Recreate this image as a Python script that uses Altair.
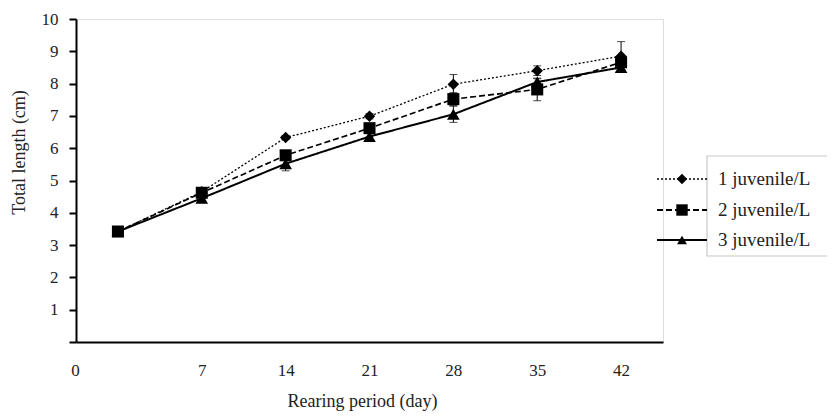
import altair as alt
import pandas as pd

days = [0, 7, 14, 21, 28, 35, 42]
series_names = ["1 juvenile/L", "2 juvenile/L", "3 juvenile/L"]
s1 = [3.42, 4.65, 6.33, 6.99, 7.98, 8.40, 8.85]
s1_err = [0.05, 0.06, 0.06, 0.08, 0.30, 0.15, 0.45]
s2 = [3.42, 4.62, 5.78, 6.62, 7.52, 7.82, 8.66]
s2_err = [0.05, 0.10, 0.10, 0.12, 0.20, 0.35, 0.15]
s3 = [3.42, 4.45, 5.52, 6.36, 7.05, 8.05, 8.50]
s3_err = [0.05, 0.08, 0.22, 0.10, 0.25, 0.10, 0.10]
y_ticks = [0, 1, 2, 3, 4, 5, 6, 7, 8, 9, 10]

rows = []
for name, vals, errs in zip(series_names, [s1, s2, s3], [s1_err, s2_err, s3_err]):
    for d, v, e in zip(days, vals, errs):
        rows.append({"day": d, "series": name, "value": v, "lo": v - e, "hi": v + e})
df = pd.DataFrame(rows)

FONT = "Liberation Serif"
shapes = ["diamond", "square", "triangle-up"]
dashes = [[2, 2], [6, 3], [1, 0]]
widths = [1.3, 2.0, 1.8]

x_scale = alt.Scale(domain=[-3.5, 45.5], nice=False, zero=False)
x_axis = alt.Axis(
    values=days, title="Rearing period (day)", ticks=False, tickSize=0,
    grid=False, domainColor="black", domainWidth=2,
    labelFont=FONT, labelFontSize=17, labelColor="#222",
    labelBaseline="middle", labelPadding=28,
    labelOffset={"condition": {"test": "datum.value == 0", "value": -43}, "value": 0},
    titleFont=FONT, titleFontSize=18, titleFontWeight="normal", titleColor="#222",
    titleX=286, titleY=59, titleBaseline="middle", titleAlign="center",
)
y_scale = alt.Scale(domain=[0, 10], nice=False)
y_axis = alt.Axis(
    values=y_ticks, title="Total length (cm)", grid=False,
    domainColor="black", domainWidth=2, tickColor="black", tickWidth=2, tickSize=7,
    labelFont=FONT, labelFontSize=17, labelColor="#222", labelPadding=11,
    labelExpr="datum.value == 0 ? '' : datum.label",
    titleFont=FONT, titleFontSize=18, titleFontWeight="normal", titleColor="#222",
    titleX=-57, titleY=133, titleAngle=-90, titleAlign="center", titleBaseline="middle",
)

X = alt.X("day:Q", scale=x_scale, axis=x_axis)

base = alt.Chart(df)
lines = base.mark_line(color="black", clip=False).encode(
    x=X, y=alt.Y("value:Q", scale=y_scale, axis=y_axis),
    strokeDash=alt.StrokeDash("series:N", scale=alt.Scale(domain=series_names, range=dashes), legend=None),
    strokeWidth=alt.StrokeWidth("series:N", scale=alt.Scale(domain=series_names, range=widths), legend=None),
    detail="series:N",
)
errs = base.mark_errorbar(ticks=True, size=8, thickness=1, color="black").encode(
    x=X, y=alt.Y("lo:Q", scale=y_scale, axis=y_axis), y2="hi:Q",
)
pts = base.mark_point(filled=True, color="black", opacity=1).encode(
    x=X, y=alt.Y("value:Q", scale=y_scale, axis=y_axis),
    shape=alt.Shape("series:N", scale=alt.Scale(domain=series_names, range=shapes), legend=None),
    size=alt.Size("series:N", scale=alt.Scale(domain=series_names, range=[130, 160, 120]), legend=None),
)

# manual legend (positions relative to plot area)
leg_box = alt.Chart(pd.DataFrame({"k": [0]})).mark_rect(
    fill="white", stroke="#c8c8c8", strokeWidth=1.2
).encode(x=alt.value(631), x2=alt.value(790), y=alt.value(137), y2=alt.value(237))

legend_layers = [leg_box]
row_y = [160, 191, 221]
for i, name in enumerate(series_names):
    ldf = pd.DataFrame({"series": [name]})
    legend_layers.append(
        alt.Chart(ldf).mark_rule(color="black", strokeDash=dashes[i], strokeWidth=widths[i]).encode(
            x=alt.value(581), x2=alt.value(631), y=alt.value(row_y[i])
        )
    )
    legend_layers.append(
        alt.Chart(ldf).mark_point(filled=True, color="black", opacity=1, shape=shapes[i],
                                  size=[110, 130, 100][i]).encode(
            x=alt.value(606), y=alt.value(row_y[i])
        )
    )
    legend_layers.append(
        alt.Chart(ldf).mark_text(font=FONT, fontSize=19, align="left", baseline="middle", color="#222").encode(
            x=alt.value(642), y=alt.value(row_y[i]), text="series:N"
        )
    )

chart = alt.layer(lines, errs, pts, *legend_layers).properties(
    width=587, height=323,
    autosize=alt.AutoSizeParams(type="none"),
    padding={"left": 68, "top": 11, "right": 164, "bottom": 69},
).configure_view(stroke=None).configure(background="white")

chart.save("out.html", embed_options={"renderer": "svg", "actions": False})
